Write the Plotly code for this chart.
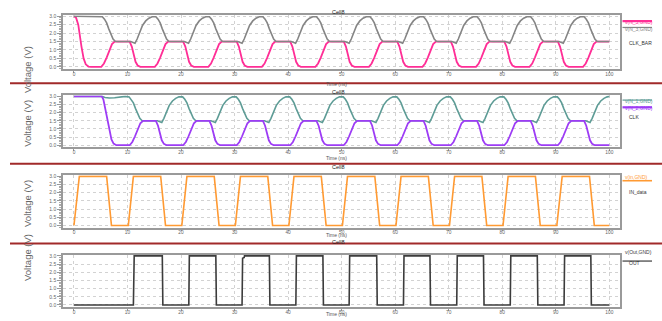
import plotly.graph_objects as go

# ---------------- data ----------------
# Panel 1 : CLK_BAR
N5_T = [0, 0.4, 0.8, 1.1, 1.4, 1.8, 2.2, 2.7, 3.2, 5.1, 5.6, 6.1, 6.6, 7.1, 7.6,
        10.4, 10.8, 11.1, 11.5, 11.9, 12.4, 15.1, 15.6, 16.1, 16.6, 17.1, 17.6,
        20.4, 20.8, 21.1, 21.5, 21.9, 22.4, 25.1, 25.6, 26.1, 26.6, 27.1, 27.6,
        30.4, 30.8, 31.1, 31.5, 31.9, 32.4, 35.1, 35.6, 36.1, 36.6, 37.1, 37.6,
        40.4, 40.8, 41.1, 41.5, 41.9, 42.4, 45.1, 45.6, 46.1, 46.6, 47.1, 47.6,
        50.4, 50.8, 51.1, 51.5, 51.9, 52.4, 55.1, 55.6, 56.1, 56.6, 57.1, 57.6,
        60.4, 60.8, 61.1, 61.5, 61.9, 62.4, 65.1, 65.6, 66.1, 66.6, 67.1, 67.6,
        70.4, 70.8, 71.1, 71.5, 71.9, 72.4, 75.1, 75.6, 76.1, 76.6, 77.1, 77.6,
        80.4, 80.8, 81.1, 81.5, 81.9, 82.4, 85.1, 85.6, 86.1, 86.6, 87.1, 87.6,
        90.4, 90.8, 91.1, 91.5, 91.9, 92.4, 95.1, 95.6, 96.1, 96.6, 97.1, 97.6,
        100]
N5_V = [3.0, 2.9, 2.5, 1.8, 1.2, 0.5, 0.15, 0.02, 0.0, 0.0, 0.2, 0.55, 1.0, 1.35, 1.5,
        1.5, 1.2, 0.75, 0.3, 0.08, 0.0, 0.0, 0.2, 0.55, 1.0, 1.35, 1.5,
        1.5, 1.2, 0.75, 0.3, 0.08, 0.0, 0.0, 0.2, 0.55, 1.0, 1.35, 1.5,
        1.5, 1.2, 0.75, 0.3, 0.08, 0.0, 0.0, 0.2, 0.55, 1.0, 1.35, 1.5,
        1.5, 1.2, 0.75, 0.3, 0.08, 0.0, 0.0, 0.2, 0.55, 1.0, 1.35, 1.5,
        1.5, 1.2, 0.75, 0.3, 0.08, 0.0, 0.0, 0.2, 0.55, 1.0, 1.35, 1.5,
        1.5, 1.2, 0.75, 0.3, 0.08, 0.0, 0.0, 0.2, 0.55, 1.0, 1.35, 1.5,
        1.5, 1.2, 0.75, 0.3, 0.08, 0.0, 0.0, 0.2, 0.55, 1.0, 1.35, 1.5,
        1.5, 1.2, 0.75, 0.3, 0.08, 0.0, 0.0, 0.2, 0.55, 1.0, 1.35, 1.5,
        1.5, 1.2, 0.75, 0.3, 0.08, 0.0, 0.0, 0.2, 0.55, 1.0, 1.35, 1.5,
        1.5]

N3_T = [0, 4.9, 5.3, 5.7, 6.1, 6.5, 6.9, 7.3, 7.7, 8.2,
        10.6, 11.0, 11.4, 11.8, 12.3, 12.8, 13.4, 14.0, 14.6, 15.3, 15.7, 16.1, 16.5, 16.9, 17.3, 17.7, 18.2,
        20.6, 21.0, 21.4, 21.8, 22.3, 22.8, 23.4, 24.0, 24.6, 25.3, 25.7, 26.1, 26.5, 26.9, 27.3, 27.7, 28.2,
        30.6, 31.0, 31.4, 31.8, 32.3, 32.8, 33.4, 34.0, 34.6, 35.3, 35.7, 36.1, 36.5, 36.9, 37.3, 37.7, 38.2,
        40.6, 41.0, 41.4, 41.8, 42.3, 42.8, 43.4, 44.0, 44.6, 45.3, 45.7, 46.1, 46.5, 46.9, 47.3, 47.7, 48.2,
        50.6, 51.0, 51.4, 51.8, 52.3, 52.8, 53.4, 54.0, 54.6, 55.3, 55.7, 56.1, 56.5, 56.9, 57.3, 57.7, 58.2,
        60.6, 61.0, 61.4, 61.8, 62.3, 62.8, 63.4, 64.0, 64.6, 65.3, 65.7, 66.1, 66.5, 66.9, 67.3, 67.7, 68.2,
        70.6, 71.0, 71.4, 71.8, 72.3, 72.8, 73.4, 74.0, 74.6, 75.3, 75.7, 76.1, 76.5, 76.9, 77.3, 77.7, 78.2,
        80.6, 81.0, 81.4, 81.8, 82.3, 82.8, 83.4, 84.0, 84.6, 85.3, 85.7, 86.1, 86.5, 86.9, 87.3, 87.7, 88.2,
        90.6, 91.0, 91.4, 91.8, 92.3, 92.8, 93.4, 94.0, 94.6, 95.3, 95.7, 96.1, 96.5, 96.9, 97.3, 97.7, 98.2,
        100]
N3_V = [3.0, 3.0, 2.97, 2.82, 2.6, 2.25, 1.9, 1.65, 1.52, 1.5,
        1.5, 1.45, 1.4, 1.65, 2.1, 2.45, 2.72, 2.88, 2.97, 2.97, 2.82, 2.6, 2.25, 1.9, 1.65, 1.52, 1.5,
        1.5, 1.45, 1.4, 1.65, 2.1, 2.45, 2.72, 2.88, 2.97, 2.97, 2.82, 2.6, 2.25, 1.9, 1.65, 1.52, 1.5,
        1.5, 1.45, 1.4, 1.65, 2.1, 2.45, 2.72, 2.88, 2.97, 2.97, 2.82, 2.6, 2.25, 1.9, 1.65, 1.52, 1.5,
        1.5, 1.45, 1.4, 1.65, 2.1, 2.45, 2.72, 2.88, 2.97, 2.97, 2.82, 2.6, 2.25, 1.9, 1.65, 1.52, 1.5,
        1.5, 1.45, 1.4, 1.65, 2.1, 2.45, 2.72, 2.88, 2.97, 2.97, 2.82, 2.6, 2.25, 1.9, 1.65, 1.52, 1.5,
        1.5, 1.45, 1.4, 1.65, 2.1, 2.45, 2.72, 2.88, 2.97, 2.97, 2.82, 2.6, 2.25, 1.9, 1.65, 1.52, 1.5,
        1.5, 1.45, 1.4, 1.65, 2.1, 2.45, 2.72, 2.88, 2.97, 2.97, 2.82, 2.6, 2.25, 1.9, 1.65, 1.52, 1.5,
        1.5, 1.45, 1.4, 1.65, 2.1, 2.45, 2.72, 2.88, 2.97, 2.97, 2.82, 2.6, 2.25, 1.9, 1.65, 1.52, 1.5,
        1.5, 1.45, 1.4, 1.65, 2.1, 2.45, 2.72, 2.88, 2.97, 2.97, 2.82, 2.6, 2.25, 1.9, 1.65, 1.52, 1.5,
        1.5]

# Panel 2 : CLK
N1_T = [0, 5.2, 5.8, 6.6, 7.6, 8.6, 9.6,
        10.3, 10.7, 11.1, 11.5, 11.9, 12.3, 12.7, 13.2, 15.6, 16.0, 16.4, 16.8, 17.3, 17.8, 18.4, 19.0, 19.6,
        20.3, 20.7, 21.1, 21.5, 21.9, 22.3, 22.7, 23.2, 25.6, 26.0, 26.4, 26.8, 27.3, 27.8, 28.4, 29.0, 29.6,
        30.3, 30.7, 31.1, 31.5, 31.9, 32.3, 32.7, 33.2, 35.6, 36.0, 36.4, 36.8, 37.3, 37.8, 38.4, 39.0, 39.6,
        40.3, 40.7, 41.1, 41.5, 41.9, 42.3, 42.7, 43.2, 45.6, 46.0, 46.4, 46.8, 47.3, 47.8, 48.4, 49.0, 49.6,
        50.3, 50.7, 51.1, 51.5, 51.9, 52.3, 52.7, 53.2, 55.6, 56.0, 56.4, 56.8, 57.3, 57.8, 58.4, 59.0, 59.6,
        60.3, 60.7, 61.1, 61.5, 61.9, 62.3, 62.7, 63.2, 65.6, 66.0, 66.4, 66.8, 67.3, 67.8, 68.4, 69.0, 69.6,
        70.3, 70.7, 71.1, 71.5, 71.9, 72.3, 72.7, 73.2, 75.6, 76.0, 76.4, 76.8, 77.3, 77.8, 78.4, 79.0, 79.6,
        80.3, 80.7, 81.1, 81.5, 81.9, 82.3, 82.7, 83.2, 85.6, 86.0, 86.4, 86.8, 87.3, 87.8, 88.4, 89.0, 89.6,
        90.3, 90.7, 91.1, 91.5, 91.9, 92.3, 92.7, 93.2, 95.6, 96.0, 96.4, 96.8, 97.3, 97.8, 98.4, 99.0, 99.6,
        100]
N1_V = [3.0, 3.0, 2.93, 2.9, 2.92, 2.97, 3.0,
        2.97, 2.82, 2.6, 2.25, 1.9, 1.65, 1.52, 1.5, 1.5, 1.45, 1.4, 1.65, 2.1, 2.45, 2.72, 2.88, 2.97,
        2.97, 2.82, 2.6, 2.25, 1.9, 1.65, 1.52, 1.5, 1.5, 1.45, 1.4, 1.65, 2.1, 2.45, 2.72, 2.88, 2.97,
        2.97, 2.82, 2.6, 2.25, 1.9, 1.65, 1.52, 1.5, 1.5, 1.45, 1.4, 1.65, 2.1, 2.45, 2.72, 2.88, 2.97,
        2.97, 2.82, 2.6, 2.25, 1.9, 1.65, 1.52, 1.5, 1.5, 1.45, 1.4, 1.65, 2.1, 2.45, 2.72, 2.88, 2.97,
        2.97, 2.82, 2.6, 2.25, 1.9, 1.65, 1.52, 1.5, 1.5, 1.45, 1.4, 1.65, 2.1, 2.45, 2.72, 2.88, 2.97,
        2.97, 2.82, 2.6, 2.25, 1.9, 1.65, 1.52, 1.5, 1.5, 1.45, 1.4, 1.65, 2.1, 2.45, 2.72, 2.88, 2.97,
        2.97, 2.82, 2.6, 2.25, 1.9, 1.65, 1.52, 1.5, 1.5, 1.45, 1.4, 1.65, 2.1, 2.45, 2.72, 2.88, 2.97,
        2.97, 2.82, 2.6, 2.25, 1.9, 1.65, 1.52, 1.5, 1.5, 1.45, 1.4, 1.65, 2.1, 2.45, 2.72, 2.88, 2.97,
        2.97, 2.82, 2.6, 2.25, 1.9, 1.65, 1.52, 1.5, 1.5, 1.45, 1.4, 1.65, 2.1, 2.45, 2.72, 2.88, 2.97,
        3.0]

N2_T = [0, 5.2, 5.5, 5.8, 6.1, 6.4, 6.7, 7.0, 7.4, 7.9,
        10.4, 10.9, 11.4, 11.9, 12.4, 12.9, 15.3, 15.7, 16.0, 16.4, 16.8, 17.3,
        20.4, 20.9, 21.4, 21.9, 22.4, 22.9, 25.3, 25.7, 26.0, 26.4, 26.8, 27.3,
        30.4, 30.9, 31.4, 31.9, 32.4, 32.9, 35.3, 35.7, 36.0, 36.4, 36.8, 37.3,
        40.4, 40.9, 41.4, 41.9, 42.4, 42.9, 45.3, 45.7, 46.0, 46.4, 46.8, 47.3,
        50.4, 50.9, 51.4, 51.9, 52.4, 52.9, 55.3, 55.7, 56.0, 56.4, 56.8, 57.3,
        60.4, 60.9, 61.4, 61.9, 62.4, 62.9, 65.3, 65.7, 66.0, 66.4, 66.8, 67.3,
        70.4, 70.9, 71.4, 71.9, 72.4, 72.9, 75.3, 75.7, 76.0, 76.4, 76.8, 77.3,
        80.4, 80.9, 81.4, 81.9, 82.4, 82.9, 85.3, 85.7, 86.0, 86.4, 86.8, 87.3,
        90.4, 90.9, 91.4, 91.9, 92.4, 92.9, 95.3, 95.7, 96.0, 96.4, 96.8, 97.3,
        100]
N2_V = [3.0, 3.0, 2.8, 2.3, 1.8, 1.2, 0.7, 0.35, 0.1, 0.0,
        0.0, 0.2, 0.55, 1.0, 1.35, 1.5, 1.5, 1.2, 0.75, 0.3, 0.08, 0.0,
        0.0, 0.2, 0.55, 1.0, 1.35, 1.5, 1.5, 1.2, 0.75, 0.3, 0.08, 0.0,
        0.0, 0.2, 0.55, 1.0, 1.35, 1.5, 1.5, 1.2, 0.75, 0.3, 0.08, 0.0,
        0.0, 0.2, 0.55, 1.0, 1.35, 1.5, 1.5, 1.2, 0.75, 0.3, 0.08, 0.0,
        0.0, 0.2, 0.55, 1.0, 1.35, 1.5, 1.5, 1.2, 0.75, 0.3, 0.08, 0.0,
        0.0, 0.2, 0.55, 1.0, 1.35, 1.5, 1.5, 1.2, 0.75, 0.3, 0.08, 0.0,
        0.0, 0.2, 0.55, 1.0, 1.35, 1.5, 1.5, 1.2, 0.75, 0.3, 0.08, 0.0,
        0.0, 0.2, 0.55, 1.0, 1.35, 1.5, 1.5, 1.2, 0.75, 0.3, 0.08, 0.0,
        0.0, 0.2, 0.55, 1.0, 1.35, 1.5, 1.5, 1.2, 0.75, 0.3, 0.08, 0.0,
        0.0]

# Panel 3 : IN_data
IN_T = [0, 1.0, 6.1, 7.0,
        10.15, 11.1, 16.2, 17.1, 20.15, 21.1, 26.2, 27.1, 30.15, 31.1, 36.2, 37.1,
        40.15, 41.1, 46.2, 47.1, 50.15, 51.1, 56.2, 57.1, 60.15, 61.1, 66.2, 67.1,
        70.15, 71.1, 76.2, 77.1, 80.15, 81.1, 86.2, 87.1, 90.2, 91.2, 96.3, 97.2,
        100]
IN_V = [0, 3, 3, 0,
        0, 3, 3, 0, 0, 3, 3, 0, 0, 3, 3, 0,
        0, 3, 3, 0, 0, 3, 3, 0, 0, 3, 3, 0,
        0, 3, 3, 0, 0, 3, 3, 0, 0, 3, 3, 0,
        0]

# Panel 4 : OUT
OUT_T = [0, 11.1, 11.25, 16.5, 16.6, 21.45, 21.55, 26.5, 26.6,
         31.4, 31.5, 31.8, 31.85, 36.5, 36.6, 41.45, 41.55, 46.5, 46.6,
         51.4, 51.5, 56.55, 56.65, 61.55, 61.65, 66.5, 66.6, 71.5, 71.6, 76.5, 76.6,
         81.5, 81.6, 86.55, 86.65, 91.55, 91.65, 96.55, 96.65, 100]
OUT_V = [0, 0, 3, 3, 0, 0, 3, 3, 0,
         0, 2.85, 2.9, 3, 3, 0, 0, 3, 3, 0,
         0, 3, 3, 0, 0, 3, 3, 0, 0, 3, 3, 0,
         0, 3, 3, 0, 0, 3, 3, 0, 0]

X_TICKS = [0, 10, 20, 30, 40, 50, 60, 70, 80, 90, 100]
Y_TICKS = [0.0, 0.5, 1.0, 1.5, 2.0, 2.5, 3.0]
PANEL_TITLE = "Cell8"
X_TITLE = "Time (ns)"
Y_TITLE = "Voltage (V)"

PANELS = [
    {"series": [("v(N_5,GND)", N5_T, N5_V, "#ff2e96", 2.2),
                ("v(N_3,GND)", N3_T, N3_V, "#858585", 1.2)],
     "name": "CLK_BAR"},
    {"series": [("v(N_1,GND)", N1_T, N1_V, "#5e9c96", 1.2),
                ("v(N_2,GND)", N2_T, N2_V, "#9d3cf5", 2.2)],
     "name": "CLK"},
    {"series": [("v(in,GND)", IN_T, IN_V, "#ff9a33", 1.6)],
     "name": "IN_data"},
    {"series": [("v(Out,GND)", OUT_T, OUT_V, "#3c3c3c", 1.2)],
     "name": "OUT"},
]

# ---------------- layout ----------------
W, H = 662, 321
PX_L, PX_R = 63, 620
TOPS = [13.3, 94.3, 175.0, 255.3]
BOTS = [67.7, 146.7, 227.7, 308.0]
SEPS = [82.0, 163.3, 243.7]
LEG_OFF = [  # (text1, ul1, text2, ul2, name) offsets from top
    (1.7, 6.0, 9.4, 12.4, 22.7),
    (1.0, 4.7, 8.0, 12.0, 22.0),
    (1.7, 5.4, None, None, 16.7),
    (2.0, 6.2, None, None, 13.4),
]
FONT = "Liberation Sans, Arial, sans-serif"


def fx(px):
    return px / W


def fy(py):
    return 1 - py / H


fig = go.Figure()
layout = dict(
    width=W, height=H, margin=dict(l=0, r=0, t=0, b=0),
    paper_bgcolor="white", plot_bgcolor="white", showlegend=False,
    font=dict(family=FONT, color="#555"),
)
annotations = []
shapes = []

for i, panel in enumerate(PANELS):
    n = "" if i == 0 else str(i + 1)
    xa, ya = "x" + n, "y" + n
    for (label, t, v, col, lw) in panel["series"]:
        fig.add_trace(go.Scatter(x=t, y=v, mode="lines", name=label,
                                 line=dict(color=col, width=1.6 if lw < 2 else 1.8),
                                 xaxis=xa, yaxis=ya, hoverinfo="skip"))
    layout["xaxis" + n] = dict(
        domain=[fx(PX_L), fx(PX_R)], range=[-2.05, 102], anchor=ya,
        tickvals=X_TICKS, ticks="outside", ticklen=2, tickcolor="#999",
        tickfont=dict(size=4.8, color="#666"), ticklabelstandoff=-3,
        showgrid=True, gridcolor="#d2d2d2", griddash="dot", gridwidth=1,
        showline=True, mirror=True, linecolor="#9a9a9a", linewidth=1.5,
        zeroline=False,
    )
    layout["yaxis" + n] = dict(
        domain=[fy(BOTS[i]), fy(TOPS[i])], range=[-0.13, 3.06], anchor=xa,
        tickvals=Y_TICKS, tickformat=".1f", ticks="outside", ticklen=4,
        tickcolor="#999", tickfont=dict(size=5, color="#666"),
        minor=dict(dtick=0.1, ticks="outside", ticklen=2, tickcolor="#aaa", showgrid=False),
        showgrid=True, gridcolor="#d2d2d2", griddash="dot", gridwidth=1,
        showline=True, mirror=True, linecolor="#9a9a9a", linewidth=1.5,
        zeroline=False,
    )
    top, bot = TOPS[i], BOTS[i]
    # panel title, x title, y title
    annotations.append(dict(text=PANEL_TITLE, x=fx(338), y=fy(top - 8.3), xref="paper", yref="paper",
                            showarrow=False, font=dict(size=5.5, color="#222", family=FONT)))
    annotations.append(dict(text=X_TITLE, x=fx(336), y=fy(bot + 11.2), xref="paper", yref="paper",
                            showarrow=False, borderpad=0,
                            font=dict(size=5, color="#555", family=FONT)))
    annotations.append(dict(text=Y_TITLE, x=fx(20), y=fy((top + bot) / 2 + 2), xref="paper", yref="paper",
                            showarrow=False, textangle=-90, font=dict(size=9.5, color="#666", family=FONT)))
    # legend entries
    offs = LEG_OFF[i]
    for j, (label, t, v, col, lw) in enumerate(panel["series"]):
        to, uo = (offs[0], offs[1]) if j == 0 else (offs[2], offs[3])
        annotations.append(dict(text=label, x=fx(622.5), y=fy(top + to), xref="paper", yref="paper",
                                xanchor="left", showarrow=False,
                                font=dict(size=5, color=col, family=FONT)))
        shapes.append(dict(type="line", xref="paper", yref="paper",
                           x0=fx(622.5), x1=fx(652), y0=fy(top + uo), y1=fy(top + uo),
                           line=dict(color=col, width=lw)))
    annotations.append(dict(text=panel["name"], x=fx(626.5), y=fy(top + offs[4]), xref="paper", yref="paper",
                            xanchor="left", showarrow=False,
                            font=dict(size=5, color="#333", family=FONT)))

for s in SEPS:
    shapes.append(dict(type="line", xref="paper", yref="paper",
                       x0=fx(10), x1=fx(662), y0=fy(s), y1=fy(s),
                       line=dict(color="#a12a2a", width=2)))

layout["annotations"] = annotations
layout["shapes"] = shapes
fig.update_layout(**layout)
fig.write_html("out.html", config={"displayModeBar": False},
               post_script="document.body.style.margin='0';document.body.style.overflow='hidden';")
